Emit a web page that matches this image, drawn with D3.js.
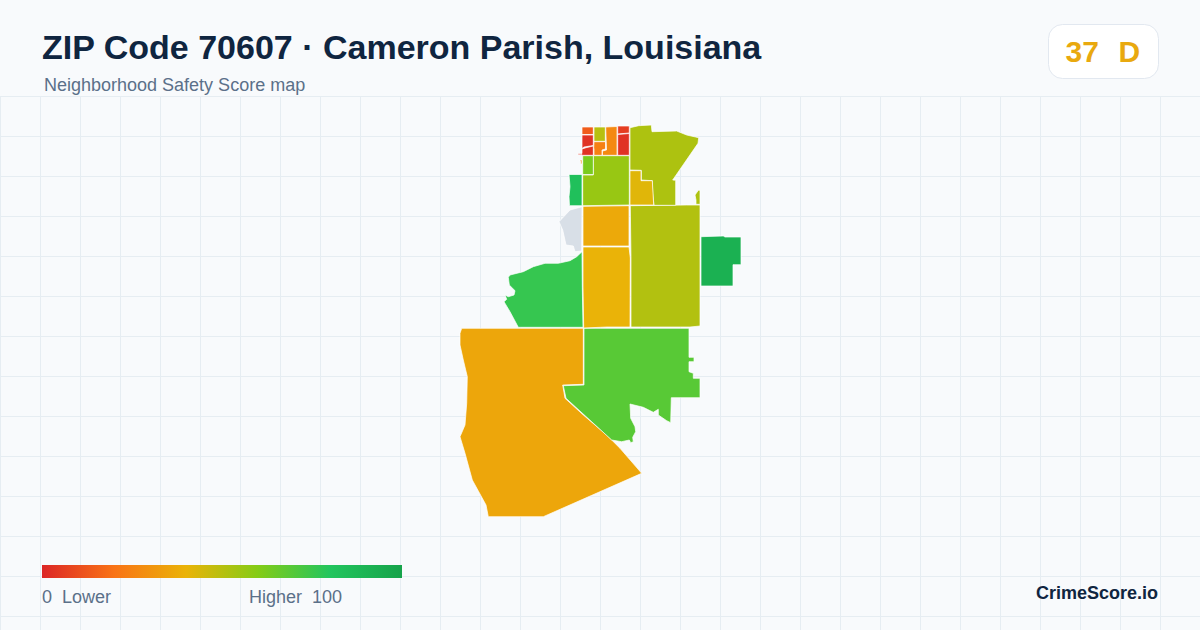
<!DOCTYPE html>
<html><head><meta charset="utf-8">
<script src="https://cdn.jsdelivr.net/npm/d3@7/dist/d3.min.js"></script>
<style>html,body{margin:0;padding:0;background:#f8fafc}svg{display:block}text{font-family:"Liberation Sans",Arial,sans-serif}</style>
</head><body><svg id="c" width="1200" height="630"></svg>
<script>
const titleText = "ZIP Code 70607 · Cameron Parish, Louisiana";
const subtitleText = "Neighborhood Safety Score map";
const overallScore = 37, overallGrade = "D";
const legendStops = [0,20,40,60,80,100];
const legendColors = ["#dc2626","#f97316","#eab308","#84cc16","#22c55e","#16a34a"];
const legendLabels = ["0  Lower","Higher  100"];
const noDataColor = "#d8dfe7";

// Tract outlines in map units, one small list per area; scores beside them.
const southWest = [[21.7,208.3],[30,208.3],[143.3,208.3],[143.3,264.3],[122.7,265],[125,278.3],[143.3,295],[166.7,315],[180,328.3],[201.7,353.3],[103.3,396.7],[48.3,396.7],[46,385],[32.3,360],[25,333.3],[20,316.7],[25,305],[26.7,283.3],[27.3,256.7],[23.3,240],[20,225],[20,213.3]];
const southEast = [[144,208.3],[249,208.3],[249,237.3],[254,237.3],[254,241.7],[249,241.7],[249,251.7],[253.3,253.3],[253.3,258.3],[260,258.3],[260,277.7],[231.3,277.7],[230.7,302.7],[226.7,300.7],[218.3,295],[218.3,289.3],[213.3,292.3],[203.3,287.3],[190,284],[190.7,298.3],[195,306.7],[195.7,311.7],[192.7,317.3],[193.3,321.7],[190.7,322.7],[189.3,320],[181.7,321.7],[171.7,320],[126,278.3],[123.3,265.7],[144,265]];
const westMid = [[142,131.7],[136.7,136.7],[130,140.7],[118.3,143.3],[105,143.3],[93.3,146.7],[83.3,151.7],[70,155],[68.3,157.3],[69.3,165],[75,170.7],[74,175],[68.3,176.7],[65,175],[66.7,179.3],[64,181.7],[70,191.7],[78.3,207.3],[143,207.3],[142.3,167.3]];
const centerLower = [[143,127],[189,127],[190.3,138],[190,207],[167,207],[143.7,208],[143,167]];
const centerUpper = [[143,86.3],[165,86],[189,85.7],[189,126],[143,126]];
const eastBlock = [[190.3,85.7],[246.7,85],[260,85],[260,206],[250,207],[191,207],[191,138]];
const farEast = [[261,116.7],[283.3,116],[285,117],[301,117],[301,144.7],[293,144.7],[293,166],[261,166]];
const noDataArea = [[142,86.7],[130,90],[119,101.7],[122.7,110],[126,125],[133.3,126],[135,131.7],[141.7,131]];
const northEast = [[190,7.7],[198.7,5.7],[211.3,5],[212,11.7],[236.7,11],[246.7,15],[258.7,17.7],[258,23.3],[232.7,60],[235.7,60.3],[235.7,85.3],[214,85.3],[212.7,73.3],[212.3,60.7],[201.3,60],[201.3,50.3],[190,50]];
const northEastInner = [[190,50.7],[201,50.7],[201,60.7],[212.3,60.7],[213.7,85],[190,85]];
const northMid = [[142.7,55],[153.3,55],[153.3,35.7],[189.3,35.7],[189.3,85],[142.7,85.7]];
const northSmall = [[142.7,35.7],[153.3,35.7],[153.3,54.5],[142.7,54.5]];
const westSliver = [[129,54.5],[142,54.5],[142,85.7],[129.5,85.7],[129,76.7],[130,66.7]];
const eastSliver = [[255,75],[258.3,70.3],[260,70.3],[260,84.3],[256,84.3],[256,80]];
const cellA = [[142,7],[153.3,7],[153.3,14.5],[142,14.5]];
const cellB = [[142,15],[153.3,15],[153.3,25.5],[144,27],[142,28.5]];
const cellC = [[142,29],[146,27.7],[153.3,26],[153.3,35.3],[142,35.3],[142,34.7],[138,34.7],[138,33.5],[142,33.5]];
const cellD = [[154,7],[165.3,7],[165.3,21.3],[154,21.3]];
const cellE = [[154,21.7],[165.5,21.7],[165.5,29],[162,30],[162,35.3],[154,35.3],[154,29],[153.7,28]];
const cellF = [[165.7,7],[177,6.5],[177,35.3],[162.5,35.3],[162.5,31],[166.5,30]];
const cellG = [[177.7,6],[189.3,6],[189.3,13],[177.7,14]];
const cellH = [[177.7,14.5],[189.3,13.5],[189.3,35.3],[177.7,35.3]];
const tickMark = [[140,40],[142,40],[142,44],[140.8,44],[140.8,41.2],[140,41.2]];

const areas = [southWest,southEast,westMid,centerLower,centerUpper,eastBlock,farEast,noDataArea,northEast,northEastInner,northMid,northSmall,westSliver,eastSliver,cellA,cellB,cellC,cellD,cellE,cellF,cellG,cellH,tickMark];
const areaScores = [36,69,76,40,37,51,92,null,52,42,56,62,83,52,14,3,3,50,24,27,6,3,28];

const W=1200,H=630,gridStep=40,gridTop=96.5;
const svg=d3.select("#c");
const gridX=d3.range(0,W+1,gridStep), gridY=d3.range(gridTop,H,gridStep);
svg.append("rect").attr("width",W).attr("height",H).attr("fill","#f8fafc");
const g=svg.append("g").attr("stroke","#e6edf2").attr("stroke-width",1);
g.selectAll("line.v").data(gridX).join("line").attr("class","v").attr("x1",d=>d+.5).attr("x2",d=>d+.5).attr("y1",gridTop).attr("y2",H);
g.selectAll("line.h").data(gridY).join("line").attr("class","h").attr("x1",0).attr("x2",W).attr("y1",d=>d).attr("y2",d=>d);

const x=d3.scaleLinear().domain([0,320]).range([440,760]);
const y=d3.scaleLinear().domain([0,400]).range([120,520]);
const color=d3.scaleLinear().domain(legendStops).range(legendColors).interpolate(d3.interpolateRgb);
const line=d3.line().x(d=>x(d[0])).y(d=>y(d[1])).curve(d3.curveLinearClosed);
svg.append("g").selectAll("path").data(areas).join("path")
  .attr("d",line)
  .attr("fill",(d,i)=>areaScores[i]==null?noDataColor:color(areaScores[i]))
  .attr("stroke","#ffffff").attr("stroke-width",0.7).attr("stroke-linejoin","round");

const defs=svg.append("defs");
const lg=defs.append("linearGradient").attr("id","lg");
lg.selectAll("stop").data(legendStops).join("stop").attr("offset",d=>d+"%").attr("stop-color",(d,i)=>legendColors[i]);
const lx=d3.scaleLinear().domain([0,100]).range([42,402]);
svg.append("rect").attr("x",lx(0)).attr("y",565).attr("width",lx(100)-lx(0)).attr("height",13).attr("fill","url(#lg)");
const txt=(t,px,py,size,fill,weight,anchor)=>svg.append("text").attr("x",px).attr("y",py).attr("font-size",size).attr("fill",fill).attr("font-weight",weight||400).attr("text-anchor",anchor||"start").attr("xml:space","preserve").style("white-space","pre").text(t);
txt(titleText,42,59,34,"#0f2540",700);
txt(subtitleText,44,91,18,"#5b7089");
txt(legendLabels[0],42,603,18,"#5b7089");
txt(legendLabels[1],342,603,18,"#5b7089",400,"end");
txt("CrimeScore.io",1158,599,18,"#0f2540",700,"end");
svg.append("rect").attr("x",1048.5).attr("y",24.5).attr("width",110).attr("height",54).attr("rx",14).attr("fill","#ffffff").attr("stroke","#e2e8f0");
txt(String(overallScore),1065.5,62,30,"#e9a90f",700);
txt(overallGrade,1118.5,62,30,"#e9a90f",700);
</script></body></html>
